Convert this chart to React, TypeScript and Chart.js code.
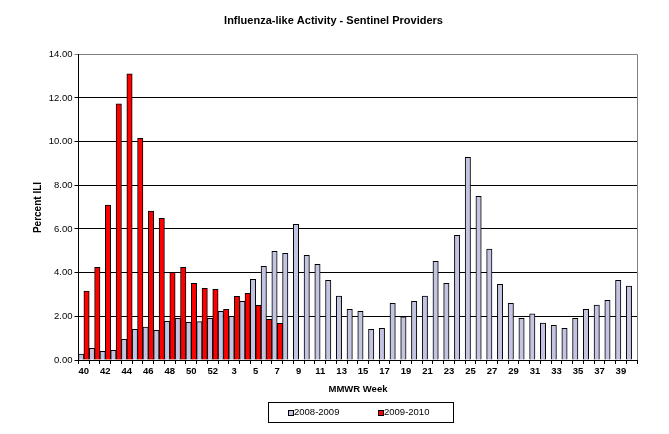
import React, { useEffect, useRef } from "react";
import { Chart, registerables } from "chart.js";

Chart.register(...registerables);

const weeks: string[] = [
  "40", "41", "42", "43", "44", "45", "46", "47", "48", "49", "50", "51", "52",
  "2", "3", "4", "5", "6", "7", "8", "9", "10", "11", "12", "13", "14", "15",
  "16", "17", "18", "19", "20", "21", "22", "23", "24", "25", "26", "27", "28",
  "29", "30", "31", "32", "33", "34", "35", "36", "37", "38", "39", "40",
];

const season0809: number[] = [
  0.27, 0.53, 0.4, 0.44, 0.95, 1.4, 1.51, 1.36, 1.77, 1.91, 1.73, 1.76, 1.91,
  2.23, 2.0, 2.69, 3.69, 4.29, 4.98, 4.89, 6.21, 4.79, 4.38, 3.65, 2.93, 2.32,
  2.23, 1.4, 1.45, 2.6, 1.98, 2.69, 2.93, 4.52, 3.51, 5.71, 9.28, 7.5, 5.08,
  3.47, 2.6, 1.91, 2.11, 1.69, 1.59, 1.45, 1.91, 2.32, 2.52, 2.73, 3.65, 3.39,
];

const season0910: (number | null)[] = [
  3.16, 4.24, 7.1, 11.73, 13.1, 10.15, 6.82, 6.49, 4.02, 4.24, 3.51, 3.28, 3.24,
  2.32, 2.92, 3.05, 2.5, 1.86, 1.68,
];

const seriesLabels: string[] = ["2008-2009", "2009-2010"];
const yTicks: number[] = [0, 2, 4, 6, 8, 10, 12, 14];

const FONT = "'Liberation Sans', Arial, sans-serif";

const decorPlugin = {
  id: "decor",
  afterDraw(chart: any) {
    const ctx = chart.ctx;
    const ca = chart.chartArea;
    ctx.save();
    // right border
    ctx.strokeStyle = "#808080";
    ctx.lineWidth = 1;
    ctx.beginPath();
    ctx.moveTo(Math.round(ca.right) + 0.5, ca.top);
    ctx.lineTo(Math.round(ca.right) + 0.5, ca.bottom);
    ctx.stroke();

    ctx.fillStyle = "#000";
    // title
    ctx.font = `bold 11px ${FONT}`;
    ctx.textAlign = "center";
    ctx.textBaseline = "middle";
    ctx.fillText("Influenza-like Activity - Sentinel Providers", 325.5, 13);
    // x title
    ctx.font = `bold 9.5px ${FONT}`;
    ctx.fillText("MMWR Week", 350, 381);
    // y title
    ctx.save();
    ctx.translate(30, 199.5);
    ctx.rotate(-Math.PI / 2);
    ctx.font = `bold 10px ${FONT}`;
    ctx.fillText("Percent ILI", 0, 0);
    ctx.restore();

    // legend box
    ctx.strokeStyle = "#000";
    ctx.lineWidth = 1;
    ctx.strokeRect(260.5, 394.5, 185, 20);
    const items = chart.data.datasets;
    const xs = [280, 370];
    ctx.font = `9.5px ${FONT}`;
    ctx.textAlign = "left";
    items.forEach((ds: any, i: number) => {
      const x = xs[i];
      ctx.fillStyle = ds.backgroundColor;
      ctx.fillRect(x, 402.5, 5, 5);
      ctx.strokeStyle = "#000";
      ctx.strokeRect(x + 0.5, 402.5, 5, 5);
      ctx.fillStyle = "#000";
      ctx.fillText(ds.label, x + 6, 404.5);
    });
    ctx.restore();
  },
};

export default function App() {
  const ref = useRef<HTMLCanvasElement | null>(null);

  useEffect(() => {
    if (!ref.current) return;
    const chart = new Chart(ref.current, {
      type: "bar",
      data: {
        labels: weeks,
        datasets: [
          {
            label: seriesLabels[0],
            data: season0809,
            backgroundColor: "#C3C3E2",
            borderColor: "#000",
            borderWidth: 1,
            barPercentage: 1,
            categoryPercentage: 1,
          },
          {
            label: seriesLabels[1],
            data: season0910,
            backgroundColor: "#FF0000",
            borderColor: "#000",
            borderWidth: 1,
            barPercentage: 1,
            categoryPercentage: 1,
          },
        ],
      },
      options: {
        animation: false,
        responsive: false,
        maintainAspectRatio: false,
        layout: { padding: { top: 46.3, right: 24, bottom: 36, left: 0 } },
        plugins: {
          legend: { display: false },
          title: { display: false },
          tooltip: { enabled: false },
        },
        scales: {
          x: {
            afterFit: (scale: any) => {
              scale.height = 30;
            },
            grid: {
              offset: true,
              drawOnChartArea: false,
              drawTicks: true,
              tickLength: 4,
              color: "#000",
            },
            border: { color: "#000", width: 1 },
            ticks: {
              autoSkip: false,
              maxRotation: 0,
              minRotation: 0,
              padding: 2,
              color: "#000",
              font: { family: FONT, size: 9.5, weight: "bold" },
              callback: (_v: any, i: number) => (i % 2 === 0 ? weeks[i] : ""),
            },
          },
          y: {
            min: yTicks[0],
            max: yTicks[yTicks.length - 1],
            afterFit: (scale: any) => {
              scale.width = 70.5;
            },
            afterBuildTicks: (scale: any) => {
              scale.ticks = yTicks.map((v) => ({ value: v }));
            },
            grid: {
              drawTicks: true,
              tickLength: 4,
              color: (c: any) => (c.tick && c.tick.value === 14 ? "#808080" : "#000"),
            },
            border: { color: "#000", width: 1 },
            ticks: {
              padding: 2,
              color: "#000",
              font: { family: FONT, size: 9.5 },
              callback: (v: any) => Number(v).toFixed(2),
            },
          },
        },
      },
      plugins: [decorPlugin],
    });
    return () => chart.destroy();
  }, []);

  return (
    <div style={{ width: 653, height: 418 }}>
      <canvas ref={ref} width={653} height={418} style={{ width: 653, height: 418 }} />
    </div>
  );
}
